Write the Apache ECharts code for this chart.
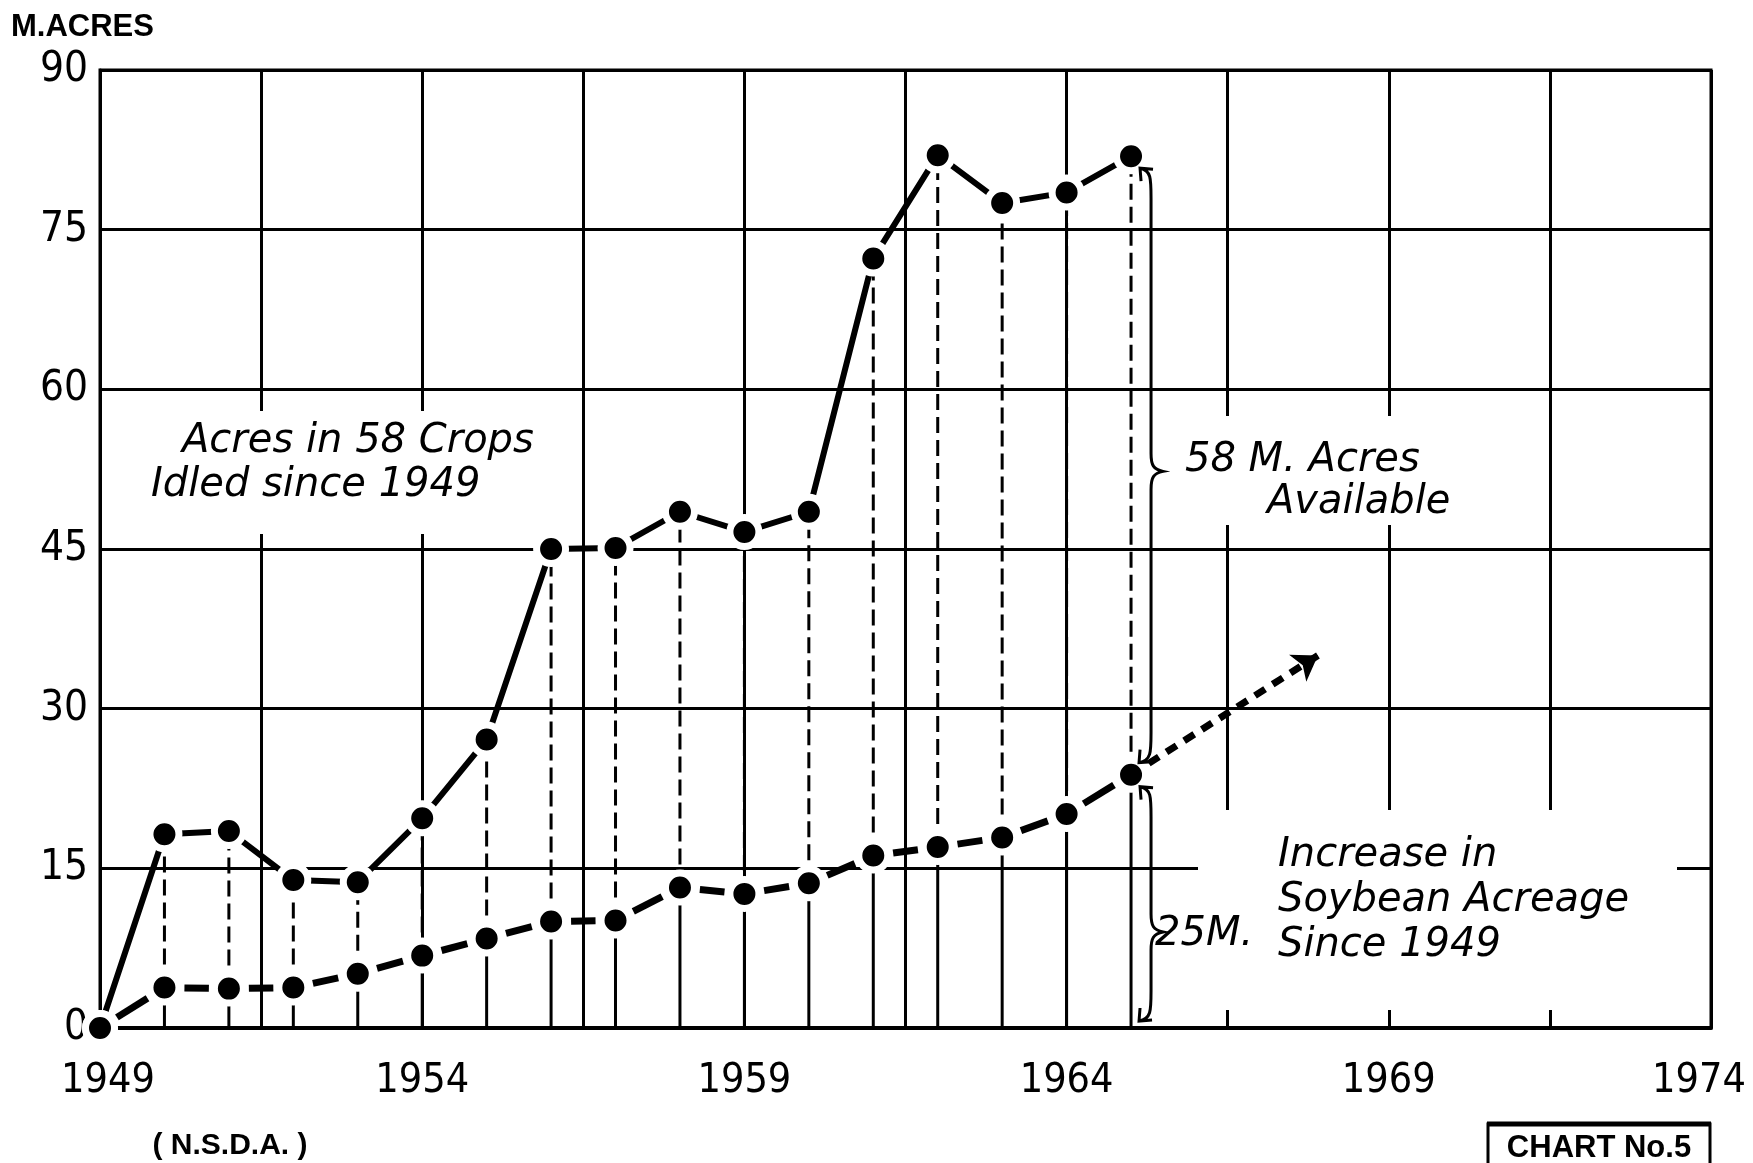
<!DOCTYPE html>
<html>
<head>
<meta charset="utf-8">
<script src="https://cdn.jsdelivr.net/npm/echarts@6/dist/echarts.min.js"></script>
<style>
html,body{margin:0;padding:0;background:#fff;}
#c{width:1753px;height:1163px;}
</style>
</head>
<body>
<div id="c"></div>
<script>
// ---- data ----
const years = [1949,1950,1951,1952,1953,1954,1955,1956,1957,1958,1959,1960,1961,1962,1963,1964,1965];
const idledAcres = [0,18.2,18.5,13.9,13.7,19.7,27.1,45.0,45.1,48.5,46.6,48.5,72.3,82.0,77.5,78.5,81.9];
const soybeanIncrease = [0,3.8,3.7,3.8,5.1,6.8,8.4,10.0,10.1,13.2,12.6,13.6,16.2,17.0,17.9,20.1,23.8];
const projectionYears = [1965, 1967.9];
const projectionValues = [23.8, 35.0];
const xTickLabels = ['1949','1954','1959','1964','1969','1974'];
const yTickLabels = ['0','15','30','45','60','75','90'];
const BASE_YEAR = 1949;

// ---- build ----
const off = y => y - BASE_YEAR;
const idledData = years.map((y,i)=>[off(y), idledAcres[i]]);
const soyData = years.map((y,i)=>[off(y), soybeanIncrease[i]]);
const soySegments = years.slice(1).map((y,k)=>[off(years[k]), soybeanIncrease[k], off(y), soybeanIncrease[k+1]]);
const dropData = years.slice(1).map((y,k)=>[off(y), soybeanIncrease[k+1], idledAcres[k+1]]);
const last = years.length - 1;
const braceData = [
  [off(years[last]), idledAcres[last], soybeanIncrease[last]],
  [off(years[last]), soybeanIncrease[last], 0]
];
const projCoords = projectionYears.map((y,i)=>[off(y), projectionValues[i]]);

const chart = echarts.init(document.getElementById('c'), null, {renderer:'canvas'});

const TICK_FONT = '"DejaVu Sans Condensed", Roboto';
const markerStyle = {color:'#000', borderColor:'#fff', borderWidth:7};
const annoFont = {fontFamily:'"DejaVu Sans"', fontStyle:'italic', fontSize:40, fill:'#000'};
function anno(text, x, y){
  return {type:'text', x:x, y:y, z:10, style:Object.assign({text:text, textAlign:'left', textVerticalAlign:'middle'}, annoFont)};
}
function mask(x, y, w, h){
  return {type:'rect', z:1, shape:{x:x, y:y, width:w, height:h}, style:{fill:'#fff'}};
}

const option = {
  backgroundColor:'#fff',
  animation:false,
  grid:{left:100, right:42, top:70, bottom:135, containLabel:false, outerBoundsMode:'none',
        show:true, borderColor:'#000', borderWidth:3, backgroundColor:'transparent'},
  xAxis:{
    type:'value', min:0, max:25, interval:2.5,
    axisLine:{show:true, lineStyle:{color:'#000', width:4}},
    axisTick:{show:false},
    splitLine:{show:true, lineStyle:{color:'#000', width:3}},
    axisLabel:{
      color:'#000', fontFamily:TICK_FONT, fontSize:41, margin:33,
      showMinLabel:true, showMaxLabel:true, hideOverlap:false,
      rich:{
        first:{fontFamily:TICK_FONT, fontSize:41, color:'#000', padding:[0,0,0,16]},
        last:{fontFamily:TICK_FONT, fontSize:41, color:'#000', padding:[0,24,0,0]}
      },
      formatter:function(v){
        const i = Math.round(v/5);
        if (Math.abs(v - i*5) > 1e-6) return '';
        if (i === 0) return '{first|' + xTickLabels[i] + '}';
        if (i === xTickLabels.length - 1) return '{last|' + xTickLabels[i] + '}';
        return xTickLabels[i];
      }
    }
  },
  yAxis:{
    type:'value', min:0, max:90, interval:15,
    axisLine:{show:true, lineStyle:{color:'#000', width:3}},
    axisTick:{show:false},
    splitLine:{show:true, lineStyle:{color:'#000', width:3}},
    axisLabel:{
      color:'#000', fontFamily:TICK_FONT, fontSize:42, margin:12,
      formatter:function(v){ return yTickLabels[Math.round(v/15)]; }
    }
  },
  series:[
    {
      type:'custom', z:2, clip:false,
      data:dropData,
      renderItem:function(params, api){
        const x = api.value(0), lo = api.value(1), hi = api.value(2);
        const p0 = api.coord([x,0]), p1 = api.coord([x,lo]), p2 = api.coord([x,hi]);
        return {type:'group', children:[
          {type:'line', shape:{x1:p0[0],y1:p0[1],x2:p1[0],y2:p1[1]}, style:{stroke:'#000', lineWidth:3}},
          {type:'line', shape:{x1:p1[0],y1:p1[1],x2:p2[0],y2:p2[1]}, style:{stroke:'#000', lineWidth:3, lineDash:[16,7]}}
        ]};
      }
    },
    {
      type:'lines', coordinateSystem:'cartesian2d', z:3,
      symbol:['none','arrow'], symbolSize:24,
      lineStyle:{color:'#000', width:7, type:[12,9], opacity:1},
      data:[{coords:projCoords}]
    },
    {
      // soybean dashed segments: one or two dashes between neighbouring points
      type:'custom', z:4, clip:false,
      data:soySegments,
      renderItem:function(params, api){
        const a = api.coord([api.value(0), api.value(1)]);
        const b = api.coord([api.value(2), api.value(3)]);
        const dx = b[0]-a[0], dy = b[1]-a[1];
        const len = Math.sqrt(dx*dx+dy*dy);
        const ux = dx/len, uy = dy/len;
        const g = 20, mid = 13;
        const usable = len - 2*g;
        const pieces = [];
        if (usable > 70) {
          const dl = (usable - mid)/2;
          pieces.push([g, g+dl], [g+dl+mid, len-g]);
        } else {
          pieces.push([g, len-g]);
        }
        return {type:'group', children:pieces.map(p=>({
          type:'line',
          shape:{x1:a[0]+ux*p[0], y1:a[1]+uy*p[0], x2:a[0]+ux*p[1], y2:a[1]+uy*p[1]},
          style:{stroke:'#000', lineWidth:7}
        }))};
      }
    },
    {
      name:'Soybean increase', type:'line', z:5,
      data:soyData,
      symbol:'circle', symbolSize:29,
      itemStyle:markerStyle,
      lineStyle:{opacity:0}
    },
    {
      name:'Acres idled', type:'line', z:5,
      data:idledData,
      symbol:'circle', symbolSize:29,
      itemStyle:markerStyle,
      lineStyle:{color:'#000', width:6}
    },
    {
      type:'custom', z:6, clip:false,
      data:braceData,
      renderItem:function(params, api){
        const x = api.value(0), top = api.value(1), bot = api.value(2);
        const pt = api.coord([x, top]), pb = api.coord([x, bot]);
        const x0 = pt[0] + 20;
        const t1 = [pt[0]+9, pt[1]+12];
        const t2 = params.dataIndex === 0 ? [pb[0]+8, pb[1]-12] : [pb[0]+8, pb[1]-7];
        const f = params.dataIndex === 0 ? 0.51 : 0.62;
        const cy = t1[1] + (t2[1]-t1[1])*f;
        const d = 12;
        const p = 'M'+t1[0]+','+t1[1]+
          ' C'+x0+','+(t1[1]+2)+' '+x0+','+(t1[1]+10)+' '+x0+','+(t1[1]+30)+
          ' L'+x0+','+(cy-18)+
          ' C'+x0+','+(cy-6)+' '+(x0+d*0.2)+','+(cy-2)+' '+(x0+d)+','+cy+
          ' C'+(x0+d*0.2)+','+(cy+2)+' '+x0+','+(cy+6)+' '+x0+','+(cy+18)+
          ' L'+x0+','+(t2[1]-30)+
          ' C'+x0+','+(t2[1]-10)+' '+x0+','+(t2[1]-2)+' '+t2[0]+','+t2[1]+
          ' M'+(t1[0]+13)+','+(t1[1]+1)+' L'+t1[0]+','+t1[1]+' L'+(t1[0]+1)+','+(t1[1]+13)+
          ' M'+(t2[0]+1)+','+(t2[1]-13)+' L'+t2[0]+','+t2[1]+' L'+(t2[0]+13)+','+(t2[1]-1);
        return {type:'path', shape:{pathData:p}, style:{stroke:'#000', fill:'none', lineWidth:3}};
      }
    }
  ],
  graphic:{elements:[
    mask(145, 411, 397, 123),
    mask(1163, 416, 307, 109),
    mask(1198, 810, 479, 200),
    {type:'text', x:11, y:27, z:10, style:{text:'M.ACRES', fontFamily:'"Liberation Sans"', fontWeight:'bold', fontSize:31, fill:'#000', textAlign:'left', textVerticalAlign:'middle'}},
    {type:'text', x:230, y:1146, z:10, style:{text:'( N.S.D.A. )', fontFamily:'"Liberation Sans"', fontWeight:'bold', fontSize:30, fill:'#000', textAlign:'center', textVerticalAlign:'middle'}},
    anno('Acres in 58 Crops', 182, 442),
    anno('Idled since 1949', 151, 486),
    anno('58 M. Acres', 1185, 461),
    anno('Available', 1267, 503),
    anno('Increase in', 1278, 856),
    anno('Soybean Acreage', 1278, 901),
    anno('Since 1949', 1278, 946),
    anno('25M.', 1155, 935),
    {type:'rect', z:10, shape:{x:1488, y:1124, width:222, height:60}, style:{fill:'#fff', stroke:'#000', lineWidth:3}},
    {type:'line', z:11, shape:{x1:1487, y1:1124, x2:1711, y2:1124}, style:{stroke:'#000', lineWidth:5}},
    {type:'text', x:1599, y:1148, z:12, style:{text:'CHART No.5', fontFamily:'"Liberation Sans"', fontWeight:'bold', fontSize:31, fill:'#000', textAlign:'center', textVerticalAlign:'middle'}}
  ]}
};
chart.setOption(option);
</script>
</body>
</html>
